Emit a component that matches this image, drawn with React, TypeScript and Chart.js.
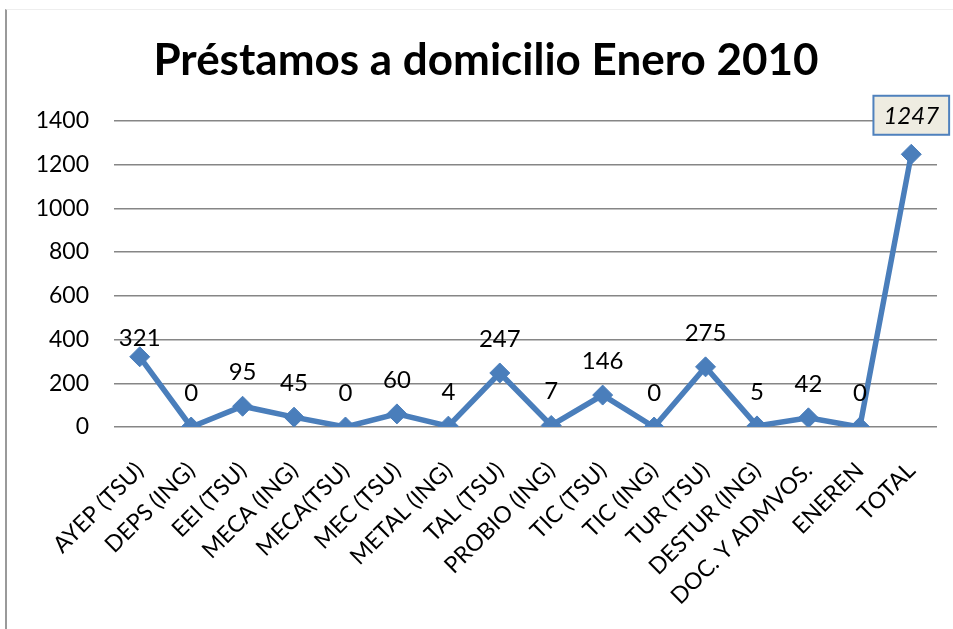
import React, { useEffect, useRef } from "react";
import { Chart, registerables } from "chart.js";

Chart.register(...registerables);

const TITLE = "Préstamos a domicilio Enero 2010";

const categories = [
  "AYEP (TSU)",
  "DEPS (ING)",
  "EEI (TSU)",
  "MECA (ING)",
  "MECA(TSU)",
  "MEC (TSU)",
  "METAL (ING)",
  "TAL (TSU)",
  "PROBIO (ING)",
  "TIC (TSU)",
  "TIC (ING)",
  "TUR (TSU)",
  "DESTUR (ING)",
  "DOC. Y ADMVOS.",
  "ENEREN",
  "TOTAL",
];

const values = [321, 0, 95, 45, 0, 60, 4, 247, 7, 146, 0, 275, 5, 42, 0, 1247];

const Y_MIN = 0;
const Y_MAX = 1400;
const Y_STEP = 200;

const FONT = "Lato, 'Open Sans', sans-serif";
const LINE_COLOR = "#4A7EBB";

const labelPlugin = {
  id: "pointValueLabels",
  afterDatasetsDraw(chart: any) {
    const ctx = chart.ctx;
    const meta = chart.getDatasetMeta(0);
    meta.data.forEach((pt: any, i: number) => {
      const last = i === values.length - 1;
      const text = String(values[i]);
      ctx.save();
      ctx.font = (last ? "italic " : "") + "24px " + FONT;
      ctx.textAlign = "center";
      ctx.textBaseline = "middle";
      const dy = i === 0 ? 20 : last ? 39 : 35;
      const x = pt.x;
      const y = pt.y - dy;
      if (last) {
        const w = ctx.measureText(text).width + 20;
        const h = 39;
        ctx.fillStyle = "#EEECE1";
        ctx.fillRect(x - w / 2, y - h / 2, w, h);
        ctx.strokeStyle = "#4F81BD";
        ctx.lineWidth = 2;
        ctx.strokeRect(x - w / 2, y - h / 2, w, h);
      }
      ctx.fillStyle = "#000";
      ctx.fillText(text, x, y + 1);
      ctx.restore();
    });
  },
};

export default function App() {
  const ref = useRef<HTMLCanvasElement | null>(null);

  useEffect(() => {
    if (!ref.current) return;
    const chart = new Chart(ref.current, {
      type: "line",
      data: {
        labels: categories,
        datasets: [
          {
            data: values,
            borderColor: LINE_COLOR,
            backgroundColor: LINE_COLOR,
            borderWidth: 5.5,
            pointStyle: "rectRot",
            pointRadius: 10,
            pointBackgroundColor: LINE_COLOR,
            pointBorderColor: LINE_COLOR,
            pointBorderWidth: 1,
            tension: 0,
          },
        ],
      },
      options: {
        animation: false,
        responsive: false,
        maintainAspectRatio: false,
        layout: { padding: { left: 35, right: 16, top: 0, bottom: 0 } },
        plugins: {
          legend: { display: false },
          tooltip: { enabled: false },
          title: {
            display: true,
            text: TITLE,
            color: "#000",
            font: { family: FONT, size: 44, weight: "bold" },
            padding: { top: 34, bottom: 34 },
          },
        },
        scales: {
          x: {
            type: "category",
            offset: true,
            grid: { display: false, drawTicks: false },
            border: { display: false },
            ticks: {
              color: "#000",
              font: { family: FONT, size: 23 },
              maxRotation: 45,
              minRotation: 45,
              autoSkip: false,
              padding: 30,
            },
            afterFit(scale: any) {
              scale.height = 202;
              scale.paddingRight = 0;
            },
          },
          y: {
            min: Y_MIN,
            max: Y_MAX,
            grid: { color: "#868686", lineWidth: 1.5, drawTicks: false },
            border: { display: false },
            ticks: {
              stepSize: Y_STEP,
              color: "#000",
              font: { family: FONT, size: 23 },
              padding: 25,
              callback: (v: any) => String(v),
            },
            afterFit(scale: any) {
              scale.width = 79;
            },
          },
        },
      },
      plugins: [labelPlugin],
    });
    return () => chart.destroy();
  }, []);

  return (
    <div style={{ position: "fixed", left: 0, top: 0, width: 953, height: 629, background: "#fff" }}>
      <div
        style={{
          position: "absolute",
          left: 5,
          top: 9,
          right: 0,
          bottom: 0,
          borderLeft: "2px solid #9a9a9a",
          borderTop: "1px solid #eeeeee",
        }}
      />
      <canvas ref={ref} width={953} height={629} style={{ position: "absolute", left: 0, top: 0 }} />
    </div>
  );
}
